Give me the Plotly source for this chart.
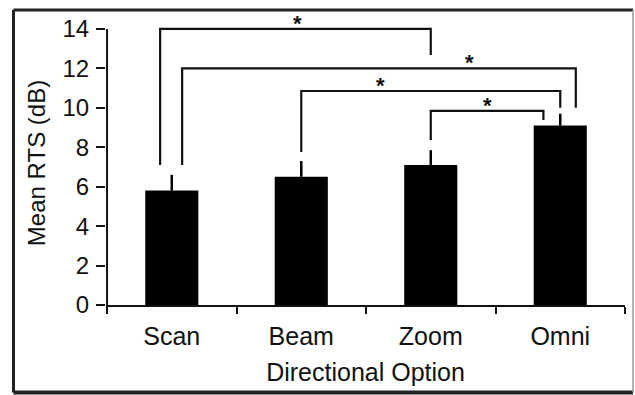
import plotly.graph_objects as go

# ---- data ----
categories = ["Scan", "Beam", "Zoom", "Omni"]
mean_rts = [5.8, 6.5, 7.1, 9.1]
error_up = [0.8, 0.8, 0.75, 0.6]
y_ticks = [0, 2, 4, 6, 8, 10, 12, 14]

# significance brackets (category index positions / dB levels)
br_left_x = [-0.09, 0.08, 1.0, 2.0]
br_left_bottom = [7.1, 7.1, 7.76, 8.37]
br_right_x = [2.0, 3.12, 3.0, 2.87]
br_right_bottom = [12.68, 10.0, 10.0, 9.38]
br_top = [14.0, 12.0, 10.85, 9.84]
star_x = [0.97, 2.3, 1.615, 2.44]
star_text = ["*", "*", "*", "*"]

FONT = "Liberation Sans, Arial, sans-serif"
INK = "#111111"

W, H = 635, 395
ML, MR, MT, MB = 106, 10, 21, 90
PW, PH = W - ML - MR, H - MT - MB

fig = go.Figure()
fig.add_trace(go.Bar(
    x=categories, y=mean_rts, width=0.41,
    marker=dict(color="black", line=dict(width=0)),
    error_y=dict(type="data", symmetric=False, array=error_up,
                 arrayminus=[0] * len(error_up),
                 color="black", thickness=2.5, width=0),
    showlegend=False,
))

shapes = []
# y axis line from 0 to 14 only
shapes.append(dict(type="line", xref="x", yref="y", x0=-0.5, x1=-0.5,
                   y0=y_ticks[0], y1=y_ticks[-1], line=dict(color=INK, width=2)))
for lx, lb, rx, rb, t in zip(br_left_x, br_left_bottom, br_right_x, br_right_bottom, br_top):
    shapes.append(dict(type="path", xref="x", yref="y",
                       path=f"M {lx},{lb} L {lx},{t} L {rx},{t} L {rx},{rb}",
                       line=dict(color=INK, width=2.2)))

# outer frame (paper coordinates computed from pixel positions)
def px(xp):
    return (xp - ML) / PW

def py(yp):
    return (H - MB - yp) / PH

fx0, fx1, fy0, fy1 = px(13.5), px(633), py(392.5), py(10)
shapes.append(dict(type="line", xref="paper", yref="paper", x0=fx0, x1=fx1, y0=fy1, y1=fy1,
                   line=dict(color="#222", width=3)))
shapes.append(dict(type="line", xref="paper", yref="paper", x0=fx0, x1=fx1, y0=fy0, y1=fy0,
                   line=dict(color="#222", width=4)))
shapes.append(dict(type="line", xref="paper", yref="paper", x0=fx0, x1=fx0, y0=fy0, y1=fy1,
                   line=dict(color="#222", width=3)))
shapes.append(dict(type="line", xref="paper", yref="paper", x0=fx1, x1=fx1, y0=fy0, y1=fy1,
                   line=dict(color="#999", width=1.5)))

annotations = []
for sx, t, s in zip(star_x, br_top, star_text):
    annotations.append(dict(x=sx, y=t, xref="x", yref="y", text=f"<b>{s}</b>", showarrow=False,
                            yanchor="bottom", yshift=-9,
                            font=dict(family=FONT, size=22, color=INK)))

fig.update_layout(
    width=W, height=H,
    margin=dict(l=ML, r=MR, t=MT, b=MB),
    paper_bgcolor="white", plot_bgcolor="white",
    font=dict(family=FONT, size=24, color=INK),
    shapes=shapes, annotations=annotations,
)
fig.update_xaxes(
    type="category", range=[-0.508, 3.5],
    tickson="boundaries", ticks="outside", ticklen=7, tickwidth=2, tickcolor=INK,
    showline=True, linewidth=2, linecolor=INK, showgrid=False, zeroline=False,
    tickfont=dict(size=25), ticklabelstandoff=8,
    title=dict(text="Directional Option", font=dict(size=25), standoff=14),
)
fig.update_yaxes(
    range=[0, 14.4], tickvals=y_ticks, ticks="outside", ticklen=9, tickwidth=2,
    tickcolor=INK, showline=False, showgrid=False, zeroline=False,
    tickfont=dict(size=24), ticklabelstandoff=2,
    title=dict(text="Mean RTS (dB)", font=dict(size=24), standoff=10),
)

fig.write_html("out.html", config={"displayModeBar": False},
               post_script="document.body.style.margin='0';document.body.style.overflow='hidden';")
